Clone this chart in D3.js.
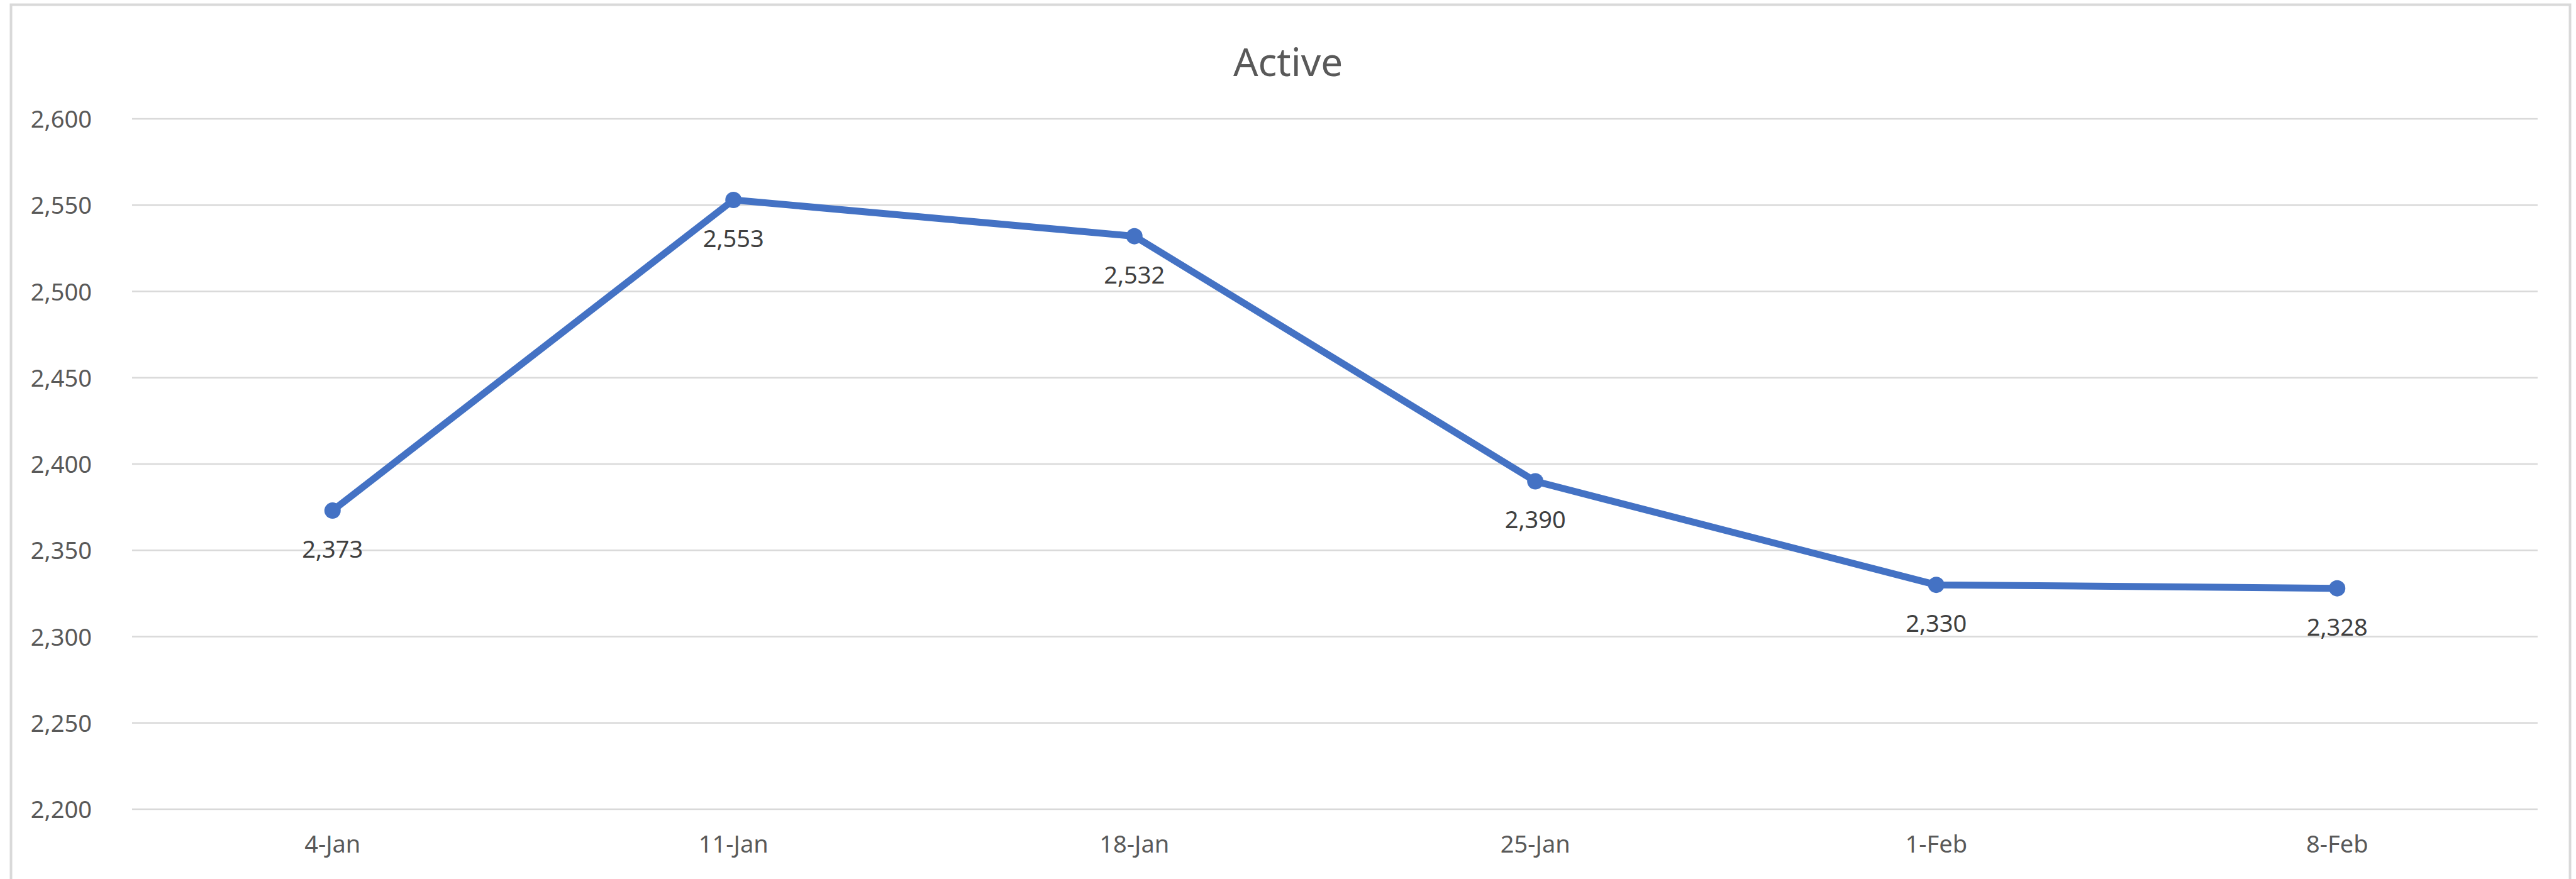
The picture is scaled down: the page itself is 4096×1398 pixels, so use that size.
<!DOCTYPE html>
<html>

<head>
    <meta charset="utf-8">
    <script src="https://d3js.org/d3.v7.min.js"></script>
    <style>
        body { margin: 0; background: #fff; }
        text { font-family: "Noto Sans", sans-serif; }
    </style>
</head>
<body>
    <script>
        // chart data
        let categories = ["4-Jan", "11-Jan", "18-Jan", "25-Jan", "1-Feb", "8-Feb"];
        let active = [2373, 2553, 2532, 2390, 2330, 2328];
        let yTicks = [2200, 2250, 2300, 2350, 2400, 2450, 2500, 2550, 2600];
        let title = "Active";

        let width = 4096,
            height = 1398;

        let svg = d3.select("body").append("svg")
            .attr("width", width)
            .attr("height", height);

        // outer chart border (bottom edge falls outside the picture)
        svg.append("rect")
            .attr("x", 17.5)
            .attr("y", 7.5)
            .attr("width", 4069)
            .attr("height", 1420)
            .attr("fill", "none")
            .attr("stroke", "#d9d9d9")
            .attr("stroke-width", 4);

        let margin = {left: 210, right: 61, top: 189, bottom: 111};

        let x = d3.scaleBand()
            .domain(categories)
            .range([margin.left, width - margin.right]);

        let y = d3.scaleLinear()
            .domain([2200, 2600])
            .range([height - margin.bottom, margin.top]);

        // gridlines
        svg.append("g")
                .attr("class", "grid")
            .selectAll("line")
            .data(yTicks)
            .join("line")
                .attr("x1", margin.left)
                .attr("x2", width - margin.right)
                .attr("y1", d => y(d))
                .attr("y2", d => y(d))
                .attr("stroke", "#d9d9d9")
                .attr("stroke-width", 2.5);

        // y axis labels
        let yAxis = d3.axisLeft(y)
            .tickValues(yTicks)
            .tickSize(0)
            .tickPadding(0)
            .tickFormat(d3.format(","));

        let yg = svg.append("g")
            .attr("transform", "translate(146,0)")
            .call(yAxis);
        yg.select(".domain").remove();
        yg.selectAll("text")
            .attr("font-family", "Noto Sans")
            .attr("font-size", 38)
            .attr("fill", "#595959")
            .attr("dy", "0.36em");

        // x axis labels
        let xAxis = d3.axisBottom(x)
            .tickSize(0)
            .tickPadding(0);

        let xg = svg.append("g")
            .attr("transform", "translate(0," + (height - margin.bottom) + ")")
            .call(xAxis);
        xg.select(".domain").remove();
        xg.selectAll("text")
            .attr("font-family", "Noto Sans")
            .attr("font-size", 38)
            .attr("fill", "#595959")
            .attr("dy", null)
            .attr("y", 69);

        let pts = categories.map((c, i) => ({cat: c, value: active[i]}));

        let line = d3.line()
            .x(d => x(d.cat) + x.bandwidth() / 2)
            .y(d => y(d.value));

        svg.append("path")
            .datum(pts)
            .attr("d", line)
            .attr("fill", "none")
            .attr("stroke", "#4472c4")
            .attr("stroke-width", 11)
            .attr("stroke-linejoin", "round");

        svg.append("g")
            .selectAll("circle")
            .data(pts)
            .join("circle")
                .attr("cx", d => x(d.cat) + x.bandwidth() / 2)
                .attr("cy", d => y(d.value))
                .attr("r", 13)
                .attr("fill", "#4472c4");

        // data labels under the points
        svg.append("g")
            .selectAll("text")
            .data(pts)
            .join("text")
                .attr("x", d => x(d.cat) + x.bandwidth() / 2)
                .attr("y", d => y(d.value) + 75)
                .attr("text-anchor", "middle")
                .attr("font-size", 38)
                .attr("fill", "#404040")
                .text(d => d3.format(",")(d.value));

        svg.append("text")
            .attr("x", width / 2)
            .attr("y", 121)
            .attr("text-anchor", "middle")
            .attr("font-size", 62)
            .attr("fill", "#595959")
            .text(title);
    </script>
</body>
</html>
